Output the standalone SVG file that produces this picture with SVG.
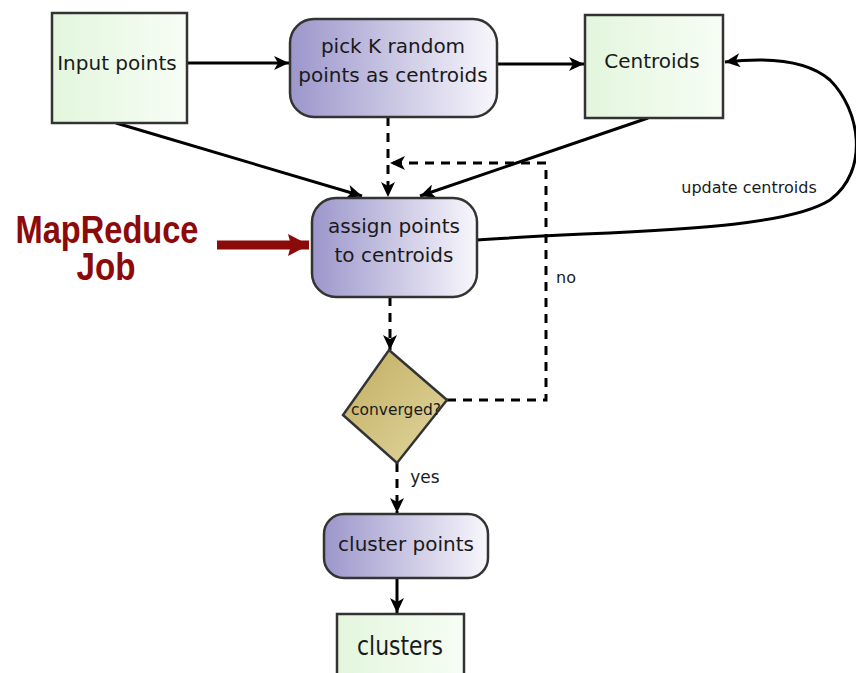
<svg xmlns="http://www.w3.org/2000/svg" width="856" height="673" viewBox="0 0 856 673">
<defs>
<linearGradient id="gGreen" x1="0" y1="0" x2="1" y2="0">
<stop offset="0" stop-color="#e3f6dd"/><stop offset="1" stop-color="#f7fdf5"/>
</linearGradient>
<linearGradient id="gPurple" x1="0" y1="0" x2="1" y2="0">
<stop offset="0" stop-color="#9c96cb"/><stop offset="1" stop-color="#f8f7fc"/>
</linearGradient>
<linearGradient id="gOlive" x1="0" y1="0" x2="1" y2="1">
<stop offset="0" stop-color="#c0ad60"/><stop offset="1" stop-color="#e2d7a0"/>
</linearGradient>
<marker id="ah" markerUnits="userSpaceOnUse" markerWidth="16" markerHeight="14" refX="15" refY="7" orient="auto">
<path d="M0,0 L15,7 L0,14 L4,7 z" fill="#000"/>
</marker>
<marker id="ahRed" markerUnits="userSpaceOnUse" markerWidth="22" markerHeight="22" refX="21" refY="11" orient="auto">
<path d="M0,0 L21,11 L0,22 L3,11 z" fill="#8b0a0a"/>
</marker>
</defs>
<style>
.box{stroke:#333;stroke-width:2.5}
.t{font-family:"DejaVu Sans",sans-serif;fill:#1a1a1a;text-anchor:middle}
.c{fill:none;stroke:#000;stroke-width:3}
.d{fill:none;stroke:#000;stroke-width:3;stroke-dasharray:9,7}
.mr{font-family:"Liberation Sans",Arial,sans-serif;font-weight:bold;fill:#8b0a0a;text-anchor:middle}
</style>

<g id="connectors">
<path class="c" d="M187,63 L289,63" marker-end="url(#ah)"/>
<path class="c" d="M497,64 L584,64" marker-end="url(#ah)"/>
<path class="c" d="M116,123 L362,196" marker-end="url(#ah)"/>
<path class="c" d="M648,118 L420,196" marker-end="url(#ah)"/>
<path class="d" d="M388,117 L388,197" marker-end="url(#ah)"/>
<path class="d" d="M390,297 L390,350" marker-end="url(#ah)"/>
<path class="d" d="M447,400 L546,400 L546,163 L390,163" marker-end="url(#ah)"/>
<path class="d" d="M397,463 L397,513" marker-end="url(#ah)"/>
<path class="c" d="M397,578 L397,613" marker-end="url(#ah)"/>
<path class="c" d="M477,240 C620,230 780,232 830,200 C870,170 860,110 830,80 C805,58 760,58 725,62" marker-end="url(#ah)"/>
<path fill="none" stroke="#8b0a0a" stroke-width="9" d="M217,245 L309,245" marker-end="url(#ahRed)"/>
<text class="t" x="749" y="193" font-size="16">update centroids</text>
<text class="t" x="566" y="283" font-size="16">no</text>
<text class="t" x="425" y="483" font-size="17">yes</text>
</g>

<g id="mapreduce">
<text class="mr" x="107" y="243" font-size="38" textLength="183" lengthAdjust="spacingAndGlyphs">MapReduce</text>
<text class="mr" x="106" y="280" font-size="38" textLength="59" lengthAdjust="spacingAndGlyphs">Job</text>
</g>

<g id="input-points">
<rect class="box" x="52" y="13" width="135" height="110" fill="url(#gGreen)"/>
<text class="t" x="117" y="70" font-size="20">Input points</text>
</g>

<g id="pick-k">
<rect class="box" x="290" y="19" width="207" height="98" rx="24" fill="url(#gPurple)"/>
<text class="t" x="393" y="53" font-size="20">pick K random</text>
<text class="t" x="393" y="82" font-size="20">points as centroids</text>
</g>

<g id="centroids">
<rect class="box" x="585" y="15" width="138" height="103" fill="url(#gGreen)"/>
<text class="t" x="652" y="68" font-size="20">Centroids</text>
</g>

<g id="assign">
<rect class="box" x="312" y="198" width="165" height="99" rx="24" fill="url(#gPurple)"/>
<text class="t" x="394" y="233" font-size="20">assign points</text>
<text class="t" x="394" y="262" font-size="20">to centroids</text>
</g>

<g id="converged">
<path class="box" d="M389,350 L447,400 L397,463 L343,415 Z" fill="url(#gOlive)" stroke-width="2"/>
<text class="t" x="396" y="415" font-size="15" textLength="90" lengthAdjust="spacingAndGlyphs">converged?</text>
</g>

<g id="cluster-points">
<rect class="box" x="324" y="514" width="164" height="64" rx="20" fill="url(#gPurple)"/>
<text class="t" x="406" y="551" font-size="20">cluster points</text>
</g>

<g id="clusters">
<rect class="box" x="337" y="614" width="127" height="70" fill="url(#gGreen)"/>
<text class="t" x="400" y="655" font-size="27" textLength="86" lengthAdjust="spacingAndGlyphs">clusters</text>
</g>
</svg>
